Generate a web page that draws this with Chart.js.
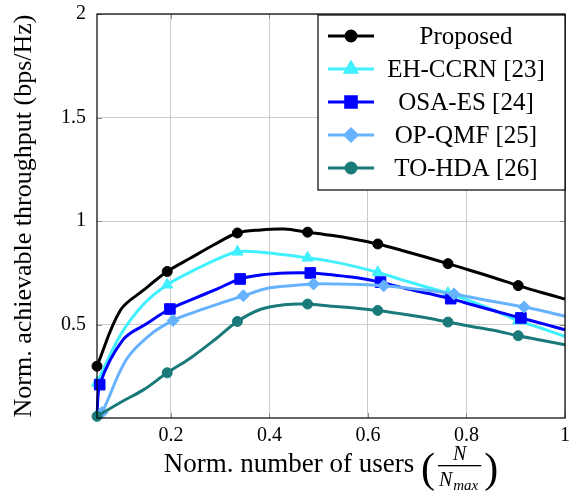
<!DOCTYPE html>
<html>
<head>
<meta charset="utf-8">
<script src="https://cdn.jsdelivr.net/npm/chart.js@4.4.0/dist/chart.umd.min.js"></script>
<style>
    html, body { margin: 0; padding: 0; background: #fff; }
</style>
</head>
<body>
<canvas id="grafico" width="574" height="497"></canvas>
<script>
// eje x (N / Nmax) de Proposed, EH-CCRN y TO-HDA
const xComun = [0.05, 0.0975, 0.145, 0.1925, 0.24, 0.2875, 0.335, 0.3825, 0.43, 0.4775, 0.525,
    0.5725, 0.62, 0.6675, 0.715, 0.7625, 0.81, 0.8575, 0.905, 0.9525, 1.0];
// OSA-ES y OP-QMF van un poco desplazadas y arrancan desde abajo
const xOsaEs = [0.05, 0.0555, 0.103, 0.1505, 0.198, 0.2455, 0.293, 0.3405, 0.388, 0.4355, 0.483,
    0.5305, 0.578, 0.6255, 0.673, 0.7205, 0.768, 0.8155, 0.863, 0.9105, 0.958, 1.0];
const xOpQmf = [0.05, 0.06, 0.1095, 0.157, 0.2045, 0.252, 0.2995, 0.347, 0.3945, 0.442, 0.4895,
    0.537, 0.5845, 0.632, 0.6795, 0.727, 0.7745, 0.822, 0.8695, 0.917, 0.9645, 1.0];

const proposed = [0.30, 0.57, 0.668, 0.757, 0.822, 0.886, 0.943, 0.958, 0.962, 0.947, 0.932,
    0.913, 0.890, 0.860, 0.828, 0.795, 0.761, 0.726, 0.689, 0.656, 0.624];
const ehCcrn = [0.219, 0.45, 0.60, 0.693, 0.755, 0.81, 0.852, 0.850, 0.838, 0.823, 0.806,
    0.782, 0.753, 0.718, 0.685, 0.652, 0.613, 0.568, 0.52, 0.483, 0.444];
const osaEs = [0.06, 0.211, 0.428, 0.505, 0.576, 0.625, 0.672, 0.721, 0.742, 0.750, 0.750,
    0.740, 0.727, 0.706, 0.677, 0.652, 0.626, 0.594, 0.563, 0.533, 0.503, 0.476];
const opQmf = [0.06, 0.076, 0.332, 0.45, 0.521, 0.565, 0.603, 0.640, 0.675, 0.688, 0.697,
    0.697, 0.694, 0.688, 0.678, 0.664, 0.649, 0.627, 0.606, 0.586, 0.562, 0.541];
const toHda = [0.058, 0.125, 0.187, 0.268, 0.34, 0.425, 0.516, 0.575, 0.597, 0.600, 0.589,
    0.581, 0.569, 0.553, 0.535, 0.513, 0.492, 0.472, 0.447, 0.425, 0.404];

const ticksX = [0.2, 0.4, 0.6, 0.8, 1];
const ticksY = [0.5, 1, 1.5, 2];

const marcasComunes = [0, 3, 6, 9, 12, 15, 18];
const marcasDesplazadas = [1, 4, 7, 10, 13, 16, 19];

const serif = '"Liberation Serif", "Times New Roman", serif';

function serie(label, xs, ys, color, estilo, radio, marcas, orden) {
    return {
        label: label,
        data: xs.map((x, i) => ({ x: x, y: ys[i] })),
        borderColor: color,
        backgroundColor: color,
        borderWidth: 3,
        borderJoinStyle: 'round',
        pointStyle: estilo,
        pointRadius: ctx => marcas.includes(ctx.dataIndex) ? radio : 0,
        pointHoverRadius: ctx => marcas.includes(ctx.dataIndex) ? radio : 0,
        pointBorderWidth: 1,
        tension: 0.35,
        clip: false,
        order: orden,
        radioLeyenda: radio
    };
}

const marco = {
    id: 'marco',
    afterDatasetsDraw(chart) {
        const { ctx, chartArea: a, scales } = chart;
        ctx.save();
        // marcas cortas hacia dentro en los cuatro lados
        ctx.strokeStyle = '#8c8c8c';
        ctx.lineWidth = 1;
        ctx.beginPath();
        ticksX.forEach(v => {
            const px = Math.round(scales.x.getPixelForValue(v)) + 0.5;
            ctx.moveTo(px, a.bottom); ctx.lineTo(px, a.bottom - 5);
            ctx.moveTo(px, a.top); ctx.lineTo(px, a.top + 5);
        });
        ticksY.forEach(v => {
            const py = Math.round(scales.y.getPixelForValue(v)) + 0.5;
            ctx.moveTo(a.left, py); ctx.lineTo(a.left + 5, py);
            ctx.moveTo(a.right, py); ctx.lineTo(a.right - 5, py);
        });
        ctx.stroke();
        ctx.strokeStyle = '#000';
        ctx.lineWidth = 1.2;
        ctx.strokeRect(a.left, a.top, a.right - a.left, a.bottom - a.top);
        ctx.restore();
    },
    afterDraw(chart) {
        const { ctx, chartArea: a } = chart;
        ctx.save();

        // leyenda dentro del area, arriba a la derecha
        const ancho = 247, alto = 175;
        const lx = a.right - ancho, ly = a.top + 1;
        ctx.fillStyle = '#fff';
        ctx.fillRect(lx, ly, ancho, alto);
        ctx.strokeStyle = '#000';
        ctx.lineWidth = 1.2;
        ctx.strokeRect(lx, ly, ancho, alto);
        chart.data.datasets.forEach((ds, i) => {
            const cy = ly + 21 + i * 33;
            ctx.strokeStyle = ds.borderColor;
            ctx.lineWidth = 3;
            ctx.beginPath();
            ctx.moveTo(lx + 10, cy);
            ctx.lineTo(lx + 56, cy);
            ctx.stroke();
            ctx.fillStyle = ds.borderColor;
            Chart.helpers.drawPoint(ctx, {
                pointStyle: ds.pointStyle, radius: ds.radioLeyenda, borderWidth: 1, rotation: 0
            }, lx + 33, cy);
            ctx.fill();
            ctx.fillStyle = '#000';
            ctx.font = '25px ' + serif;
            ctx.textAlign = 'center';
            ctx.textBaseline = 'middle';
            ctx.fillText(ds.label, lx + 148, cy + 1);
        });

        // titulo del eje y
        ctx.fillStyle = '#000';
        ctx.font = '26px ' + serif;
        ctx.textAlign = 'center';
        ctx.textBaseline = 'middle';
        ctx.save();
        ctx.translate(24, (a.top + a.bottom) / 2);
        ctx.rotate(-Math.PI / 2);
        ctx.fillText('Norm. achievable throughput (bps/Hz)', 0, 0);
        ctx.restore();

        // titulo del eje x con la fraccion N / N_max
        const base = 472;
        const texto = 'Norm. number of users ';
        ctx.textAlign = 'left';
        ctx.textBaseline = 'alphabetic';
        ctx.font = '27px ' + serif;
        const wTexto = ctx.measureText(texto).width;
        ctx.font = '42px ' + serif;
        const wPar = ctx.measureText('(').width;
        ctx.font = 'italic 20px ' + serif;
        const wN = ctx.measureText('N').width;
        ctx.font = 'italic 15px ' + serif;
        const wMax = ctx.measureText('max').width;
        const wFrac = wN + wMax + 5;
        const total = wTexto + wPar * 2 + wFrac + 6;
        let x0 = (a.left + a.right) / 2 - total / 2;

        ctx.font = '27px ' + serif;
        ctx.fillText(texto, x0, base);
        x0 += wTexto;
        ctx.font = '42px ' + serif;
        ctx.fillText('(', x0, base + 10);
        x0 += wPar + 3;
        ctx.font = 'italic 20px ' + serif;
        ctx.textAlign = 'center';
        ctx.fillText('N', x0 + wFrac / 2, base - 12);
        ctx.fillRect(x0, base - 7, wFrac, 1.3);
        ctx.textAlign = 'left';
        ctx.fillText('N', x0 + 1, base + 14);
        ctx.font = 'italic 15px ' + serif;
        ctx.fillText('max', x0 + 2 + wN, base + 18);
        x0 += wFrac + 3;
        ctx.font = '42px ' + serif;
        ctx.fillText(')', x0, base + 10);
        ctx.restore();
    }
};

document.addEventListener('DOMContentLoaded', function() {
    const canvas = document.getElementById('grafico');

    new Chart(canvas.getContext('2d'), {
        type: 'line',
        data: {
            datasets: [
                serie('Proposed', xComun, proposed, '#000000', 'circle', 5, marcasComunes, 5),
                serie('EH-CCRN [23]', xComun, ehCcrn, '#40f0ff', 'triangle', 6.5, marcasComunes, 4),
                serie('OSA-ES [24]', xOsaEs, osaEs, '#0000ff', 'rect', 7.5, marcasDesplazadas, 3),
                serie('OP-QMF [25]', xOpQmf, opQmf, '#66b2ff', 'rectRot', 6, marcasDesplazadas, 2),
                serie('TO-HDA [26]', xComun, toHda, '#1a7a7a', 'circle', 5, marcasComunes, 1)
            ]
        },
        options: {
            responsive: false,
            animation: false,
            layout: { padding: { left: 0, right: 9, top: 14, bottom: 0 } },
            plugins: {
                legend: { display: false },
                tooltip: { enabled: false }
            },
            scales: {
                x: {
                    type: 'linear',
                    min: 0.05,
                    max: 1,
                    afterBuildTicks: s => { s.ticks = ticksX.map(v => ({ value: v })); },
                    afterFit: s => { s.height = 79; s.paddingLeft = 0; s.paddingRight = 0; },
                    ticks: {
                        color: '#000',
                        padding: 6,
                        font: { family: serif, size: 20 },
                        callback: v => String(v)
                    },
                    grid: { color: '#cccccc', lineWidth: 1, drawTicks: false },
                    border: { display: false }
                },
                y: {
                    type: 'linear',
                    min: 0.05,
                    max: 2,
                    afterBuildTicks: s => { s.ticks = ticksY.map(v => ({ value: v })); },
                    afterFit: s => { s.width = 97; s.paddingTop = 0; s.paddingBottom = 0; },
                    ticks: {
                        color: '#000',
                        padding: 11,
                        font: { family: serif, size: 20 },
                        callback: v => String(v)
                    },
                    grid: { color: '#cccccc', lineWidth: 1, drawTicks: false },
                    border: { display: false }
                }
            }
        },
        plugins: [marco]
    });
});
</script>
</body>
</html>
